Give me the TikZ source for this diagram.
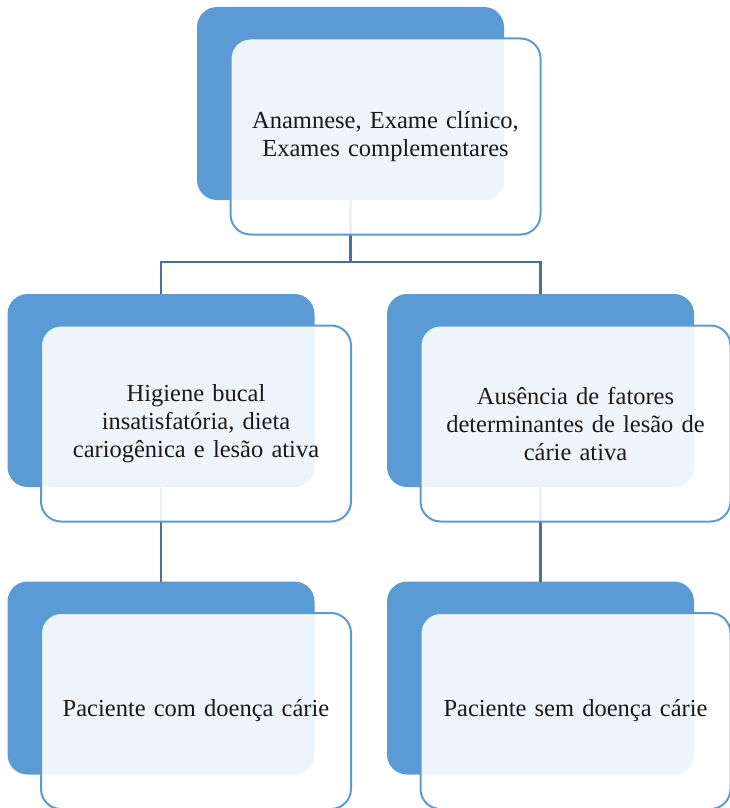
\documentclass[tikz,border=0pt]{standalone}
\usepackage{fontspec}
\setmainfont{Liberation Serif}
\definecolor{BackBlue}{RGB}{91,155,213}
\definecolor{LineBlue}{RGB}{68,114,160}
\usepackage{tikz}
\usetikzlibrary{positioning}

\begin{document}
\begin{tikzpicture}[
    x=1pt, y=-1pt,
    back/.style={rounded corners=20pt, fill=BackBlue, inner sep=0pt, outer sep=0pt,
                 minimum width=307pt, minimum height=193pt},
    front/.style={rounded corners=20pt, draw=BackBlue, line width=2pt, fill=white,
                  fill opacity=0.9, text opacity=1, align=center, inner sep=0pt,
                  minimum width=310pt, minimum height=196pt, text width=300pt,
                  font=\fontsize{24.5}{28}\selectfont, text=black!90},
    conn/.style={line width=2.5pt, LineBlue}
  ]
    \useasboundingbox (0,0) rectangle (730,808);

    % Back boxes
    \node[back] (tb)  at (350.5,103.5) {};
    \node[back] (lmb) at (161,390.5) {};
    \node[back] (rmb) at (540.5,390.5) {};
    \node[back] (lbb) at (161,678) {};
    \node[back] (rbb) at (540.5,678) {};

    % Connectors
    \coordinate (split) at (350.5,262);
    \draw[conn] (tb.south) -- (split) -| (lmb.north);
    \draw[conn] (split) -| (rmb.north);
    \draw[conn] (lmb.south) -- (lbb.north);
    \draw[conn] (rmb.south) -- (rbb.north);

    % Front boxes
    \node[front] (tf)  at ([shift={(35,33)}]tb.center)  {Anamnese, Exame clínico,\\Exames complementares};
    \node[front] (lmf) at ([shift={(35,33)}]lmb.center) {Higiene bucal\\insatisfatória, dieta\\cariogênica e lesão ativa};
    \node[front] (rmf) at ([shift={(35,33)}]rmb.center) {Ausência de fatores\\determinantes de lesão de\\cárie ativa};
    \node[front] (lbf) at ([shift={(35,33)}]lbb.center) {Paciente com doença cárie};
    \node[front] (rbf) at ([shift={(35,33)}]rbb.center) {Paciente sem doença cárie};
\end{tikzpicture}
\end{document}
